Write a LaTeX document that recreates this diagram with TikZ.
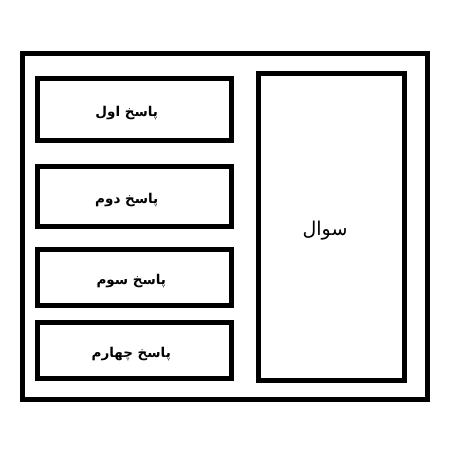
\documentclass[tikz,border=0pt]{standalone}
\usepackage{fontspec}
\newfontfamily\arabicfont[Script=Arabic]{DejaVu Sans}
\TeXXeTstate=1
\usetikzlibrary{positioning}
\newcommand{\rtltext}[1]{\raisebox{-4pt}[\height][\depth]{\beginR #1\endR}}
\tikzset{
  box/.style={draw, line width=5pt, inner sep=0pt},
  answer/.style={box, minimum width=194pt, font=\arabicfont\bfseries\fontsize{13.5}{16}\selectfont},
  question/.style={box, minimum width=146pt, minimum height=306.5pt, font=\arabicfont\fontsize{19}{22}\selectfont}
}

\begin{document}
\begin{tikzpicture}[x=1pt, y=-1pt]
  \useasboundingbox (0,0) rectangle (464,468);

  \node [box, minimum width=405.5pt, minimum height=346pt] (frame) at (224.75,226.5) {};
  \node [question] (quest) at (331.5,226.75) {\rtltext{سوال}\kern13pt};

  % text sits a little left of each box centre
  \node [answer, minimum height=62pt] (ans1) at (134.75,109.5) {\rtltext{پاسخ اول}\kern16pt};
  \node [answer, minimum height=60pt, below=21pt of ans1] (ans2) {\rtltext{پاسخ دوم}\kern16pt};
  \node [answer, minimum height=56pt, below=18pt of ans2] (ans3) {\rtltext{پاسخ سوم}\kern7pt};
  \node [answer, minimum height=56pt, below=12pt of ans3] (ans4) {\rtltext{پاسخ چهارم}\kern7pt};
\end{tikzpicture}
\end{document}
